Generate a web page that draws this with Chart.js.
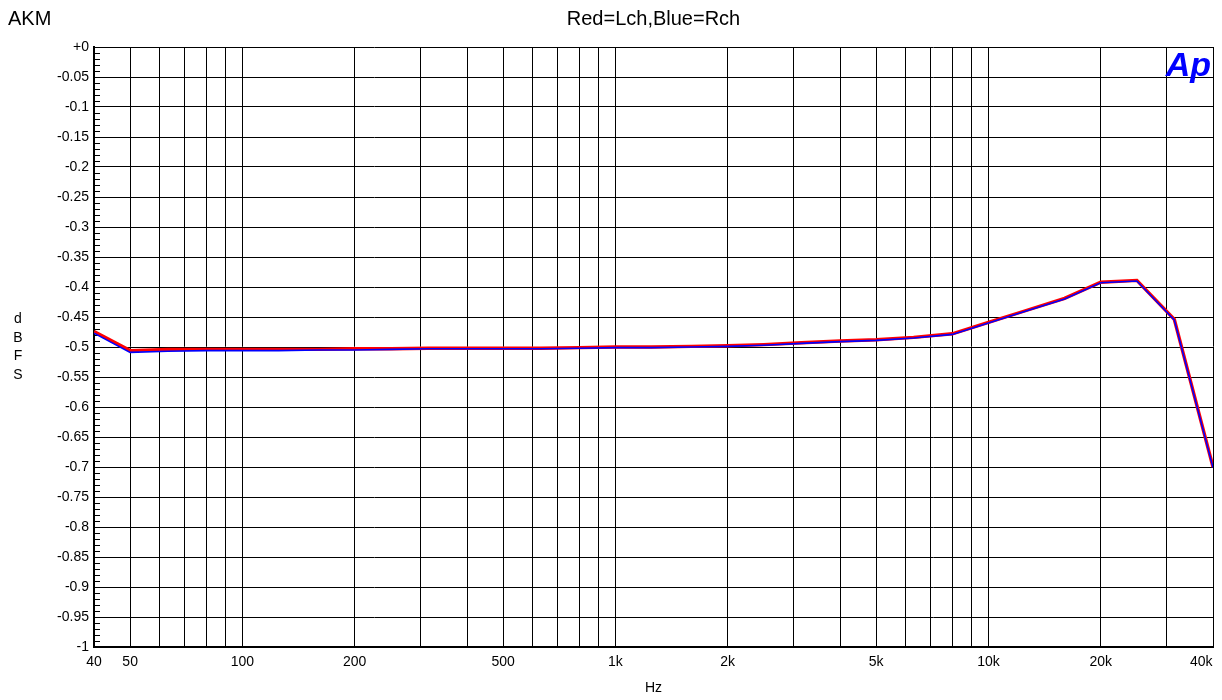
<!DOCTYPE html>
<html>
<head>
<meta charset="utf-8">
<script src="https://cdn.jsdelivr.net/npm/chart.js@4/dist/chart.umd.min.js"></script>
<style>
  body { margin: 0; background: #fff; }
  #wrap { width: 1222px; height: 700px; }
</style>
</head>
<body>
<div id="wrap"><canvas id="chart" width="1222" height="700"></canvas></div>
<script>
// frequency points (Hz)
const freqs = [40, 50, 63, 80, 100, 125, 160, 200, 250, 315, 400, 500, 630, 800,
  1000, 1250, 1600, 2000, 2500, 3150, 4000, 5000, 6300, 8000,
  10000, 12500, 16000, 20000, 25000, 31500, 40000];

// Lch (red) level, dBFS
const lch = [-0.474, -0.506, -0.504, -0.504, -0.504, -0.504, -0.504, -0.503, -0.503, -0.502,
  -0.502, -0.502, -0.502, -0.501, -0.500, -0.500, -0.499, -0.498, -0.496, -0.493,
  -0.490, -0.488, -0.484, -0.478, -0.459, -0.440, -0.419, -0.392, -0.389, -0.454, -0.700];

// Rch (blue) level, dBFS
const rch = [-0.477, -0.509, -0.507, -0.506, -0.506, -0.506, -0.505, -0.505, -0.504, -0.503,
  -0.503, -0.503, -0.503, -0.502, -0.501, -0.501, -0.500, -0.499, -0.497, -0.494,
  -0.491, -0.489, -0.485, -0.479, -0.460, -0.441, -0.420, -0.393, -0.390, -0.455, -0.701];

// x grid lines and the ones that carry a label
const xGrid = [40, 50, 60, 70, 80, 90, 100, 200, 300, 400, 500, 600, 700, 800, 900,
  1000, 2000, 3000, 4000, 5000, 6000, 7000, 8000, 9000, 10000, 20000, 30000, 40000];
const xLabels = {40: '40', 50: '50', 100: '100', 200: '200', 500: '500', 1000: '1k',
  2000: '2k', 5000: '5k', 10000: '10k', 20000: '20k', 40000: '40k      '};

const font = 'Liberation Sans, Arial, sans-serif';

const toPts = (ys) => freqs.map((f, i) => ({x: f, y: ys[i]}));

const decor = {
  id: 'decor',
  beforeDatasetsDraw(chart) {
    const {ctx, chartArea, scales} = chart;
    // small ticks inside the left edge every 0.01
    ctx.save();
    ctx.strokeStyle = '#000';
    ctx.lineWidth = 1;
    for (let i = 0; i <= 100; i++) {
      if (i % 5 === 0) continue;
      const y = Math.round(scales.y.getPixelForValue(-i / 100)) + 0.5;
      ctx.beginPath();
      ctx.moveTo(chartArea.left, y);
      ctx.lineTo(chartArea.left + 6, y);
      ctx.stroke();
    }
    ctx.restore();
  },
  afterDraw(chart) {
    const {ctx, chartArea} = chart;
    ctx.save();
    ctx.fillStyle = '#000';
    ctx.font = '20px ' + font;
    ctx.textBaseline = 'alphabetic';
    ctx.textAlign = 'left';
    ctx.fillText('AKM', 8, 25);
    ctx.textAlign = 'center';
    ctx.fillText('Red=Lch,Blue=Rch', (chartArea.left + chartArea.right) / 2, 25);

    ctx.font = '14px ' + font;
    ctx.textBaseline = 'middle';
    ['d', 'B', 'F', 'S'].forEach((c, i) => ctx.fillText(c, 18, 319 + i * 18.7));
    ctx.fillText('Hz', (chartArea.left + chartArea.right) / 2, 688);

    ctx.fillStyle = '#0000ff';
    ctx.font = 'italic bold 34px ' + font;
    ctx.textAlign = 'right';
    ctx.textBaseline = 'alphabetic';
    ctx.fillText('Ap', chartArea.right - 2, 76);
    ctx.restore();
  }
};

new Chart(document.getElementById('chart'), {
  type: 'line',
  data: {
    datasets: [
      {label: 'Rch', data: toPts(rch), borderColor: '#0000ff', borderWidth: 1.6,
        pointRadius: 0, tension: 0, order: 0},
      {label: 'Lch', data: toPts(lch), borderColor: '#ff0000', borderWidth: 3.4,
        pointRadius: 0, tension: 0, order: 1}
    ]
  },
  options: {
    responsive: false,
    animation: false,
    layout: {padding: {top: 47, right: 9, bottom: 0, left: 0}},
    plugins: {legend: {display: false}, tooltip: {enabled: false}, title: {display: false}},
    scales: {
      x: {
        type: 'logarithmic',
        min: 40,
        max: 40000,
        afterBuildTicks: (s) => { s.ticks = xGrid.map(v => ({value: v})); },
        afterFit: (s) => { s.height = 53; s.paddingLeft = 0; s.paddingRight = 0; },
        border: {color: '#000', width: 2},
        grid: {color: '#000', lineWidth: 1, drawTicks: false},
        ticks: {
          autoSkip: false, maxRotation: 0, padding: 7, color: '#000',
          font: {family: font, size: 14},
          callback: (v) => xLabels[v] || ''
        }
      },
      y: {
        min: -1,
        max: 0,
        afterBuildTicks: (s) => {
          const t = [];
          for (let i = 100; i >= 0; i--) t.push({value: -i / 100});
          s.ticks = t;
        },
        afterFit: (s) => { s.width = 94; },
        border: {color: '#000', width: 2},
        grid: {
          lineWidth: 1, drawTicks: false,
          color: (c) => (Math.round(Math.abs(c.tick.value) * 100) % 5 === 0 ? '#000' : 'rgba(0,0,0,0)')
        },
        ticks: {
          autoSkip: false, padding: 5, color: '#000',
          font: {family: font, size: 14},
          callback: (v) => {
            const k = Math.round(Math.abs(v) * 100);
            if (k % 5 !== 0) return '';
            if (k === 0) return '+0';
            return (-k / 100).toString();
          }
        }
      }
    }
  },
  plugins: [decor]
});
</script>
</body>
</html>
